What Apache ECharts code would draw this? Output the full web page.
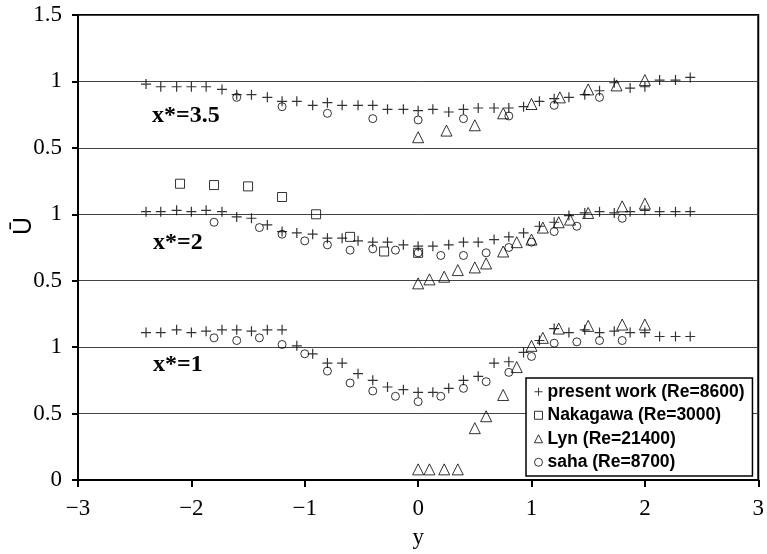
<!DOCTYPE html>
<html><head><meta charset="utf-8">
<script src="https://cdn.jsdelivr.net/npm/echarts@6/dist/echarts.min.js"></script>
<style>html,body{margin:0;padding:0;background:#fff}#c{width:767px;height:554px}</style>
</head><body><div id="c"></div><script>
// ---- data ----
const xTicks = [-3, -2, -1, 0, 1, 2, 3];
const yTickLabels = ['0', '0.5', '1', '0.5', '1', '0.5', '1', '1.5'];
const profileNames = ['x*=1', 'x*=2', 'x*=3.5'];
const profileOffsets = [0, 1, 2];
const seriesNames = ['present work (Re=8600)', 'Nakagawa (Re=3000)', 'Lyn (Re=21400)', 'saha (Re=8700)'];

const presentX = [-2.4,-2.27,-2.13,-2.0,-1.87,-1.73,-1.6,-1.47,-1.33,-1.2,-1.07,-0.93,-0.8,-0.67,-0.53,-0.4,-0.27,-0.13,0,0.13,0.27,0.4,0.53,0.67,0.8,0.93,1.07,1.2,1.33,1.47,1.6,1.73,1.87,2.0,2.13,2.27,2.4];
const presentU1 = [1.11,1.11,1.13,1.11,1.12,1.13,1.13,1.12,1.13,1.13,1.01,0.95,0.88,0.88,0.80,0.75,0.70,0.68,0.66,0.66,0.69,0.75,0.78,0.88,0.89,0.96,1.05,1.14,1.11,1.13,1.11,1.12,1.11,1.11,1.08,1.08,1.08];
const presentU2 = [1.02,1.02,1.03,1.02,1.03,1.02,0.98,0.97,0.92,0.87,0.86,0.85,0.82,0.82,0.80,0.79,0.79,0.77,0.76,0.76,0.77,0.79,0.79,0.81,0.83,0.86,0.91,0.94,0.99,1.01,1.02,1.01,1.02,1.03,1.02,1.02,1.02];
const presentU35 = [0.98,0.96,0.96,0.96,0.96,0.94,0.90,0.90,0.88,0.85,0.85,0.82,0.84,0.82,0.82,0.82,0.79,0.79,0.78,0.79,0.77,0.79,0.80,0.80,0.80,0.81,0.85,0.87,0.88,0.90,0.93,0.99,0.95,0.96,1.01,1.01,1.03];

const nakaX2 = [-2.1,-1.8,-1.5,-1.2,-0.9,-0.6,-0.3,0];
const nakaU2 = [1.23,1.22,1.21,1.13,1.0,0.83,0.72,0.71];

const lynX1 = [0,0.1,0.23,0.35,0.5,0.6,0.75,0.87,1.0,1.1,1.24,1.5,1.8,2.0];
const lynU1 = [0.08,0.08,0.08,0.08,0.39,0.48,0.64,0.85,1.01,1.07,1.14,1.16,1.17,1.17];
const lynX2 = [0,0.1,0.23,0.35,0.5,0.6,0.75,0.87,1.0,1.1,1.24,1.34,1.5,1.8,2.0];
const lynU2 = [0.48,0.51,0.53,0.58,0.60,0.63,0.72,0.79,0.81,0.90,0.94,0.96,1.01,1.06,1.08];
const lynX35 = [0,0.25,0.5,0.75,1.0,1.25,1.5,1.75,2.0];
const lynU35 = [0.58,0.63,0.67,0.76,0.83,0.88,0.94,0.97,1.01];

const sahaX1 = [-1.8,-1.6,-1.4,-1.2,-1.0,-0.8,-0.6,-0.4,-0.2,0,0.2,0.4,0.6,0.8,1.0,1.2,1.4,1.6,1.8];
const sahaU1 = [1.07,1.05,1.07,1.02,0.95,0.82,0.73,0.67,0.63,0.59,0.63,0.69,0.74,0.81,0.93,1.03,1.04,1.05,1.05];
const sahaX2 = [-1.8,-1.4,-1.2,-1.0,-0.8,-0.6,-0.4,-0.2,0,0.2,0.4,0.6,0.8,1.0,1.2,1.4,1.8];
const sahaU2 = [0.94,0.90,0.85,0.80,0.77,0.73,0.74,0.73,0.71,0.69,0.69,0.71,0.75,0.79,0.87,0.91,0.97];
const sahaX35 = [-1.6,-1.2,-0.8,-0.4,0,0.4,0.8,1.2,1.6];
const sahaU35 = [0.88,0.81,0.76,0.72,0.71,0.72,0.74,0.82,0.88];

// ---- build ----
const PLUS = 'path://M4.4,0H5.6V4.4H10V5.6H5.6V10H4.4V5.6H0V4.4H4.4Z';
const hollow = {color: 'rgba(0,0,0,0)', borderColor: '#000', borderWidth: 1};
function mk(name, symbol, size, xs, us, off, style) {
  return {
    type: 'scatter', name: name, symbol: symbol, symbolSize: size,
    data: xs.map((x, i) => [x, us[i] + off]),
    itemStyle: style, emphasis: {disabled: true}, silent: true
  };
}
const series = [
  mk(seriesNames[0], PLUS, 10, presentX, presentU1, profileOffsets[0], {color: '#000'}),
  mk(seriesNames[0], PLUS, 10, presentX, presentU2, profileOffsets[1], {color: '#000'}),
  mk(seriesNames[0], PLUS, 10, presentX, presentU35, profileOffsets[2], {color: '#000'}),
  mk(seriesNames[1], 'rect', 9, nakaX2, nakaU2, profileOffsets[1], hollow),
  mk(seriesNames[2], 'triangle', 11, lynX1, lynU1, profileOffsets[0], hollow),
  mk(seriesNames[2], 'triangle', 11, lynX2, lynU2, profileOffsets[1], hollow),
  mk(seriesNames[2], 'triangle', 11, lynX35, lynU35, profileOffsets[2], hollow),
  mk(seriesNames[3], 'circle', 8, sahaX1, sahaU1, profileOffsets[0], hollow),
  mk(seriesNames[3], 'circle', 8, sahaX2, sahaU2, profileOffsets[1], hollow),
  mk(seriesNames[3], 'circle', 8, sahaX35, sahaU35, profileOffsets[2], hollow)
];

const serif = '"Liberation Serif", "Times New Roman", serif';
const sans = '"Liberation Sans", Arial, sans-serif';
const chart = echarts.init(document.getElementById('c'), null, {renderer: 'canvas'});
chart.setOption({
  animation: false,
  backgroundColor: '#fff',
  grid: {left: 78, right: 4, top: 15, bottom: 74, show: true, borderColor: '#000', borderWidth: 2, backgroundColor: 'rgba(0,0,0,0)'},
  xAxis: {
    type: 'value', min: xTicks[0], max: xTicks[xTicks.length - 1], interval: 1,
    name: 'y', nameLocation: 'middle', nameGap: 46,
    nameTextStyle: {fontFamily: serif, fontSize: 23, color: '#000'},
    axisLine: {show: true, onZero: false, lineStyle: {color: '#000', width: 2}},
    axisTick: {show: true, inside: false, length: 7, lineStyle: {color: '#000', width: 2}},
    axisLabel: {fontFamily: serif, fontSize: 23, color: '#000', margin: 17,
      formatter: v => (v < 0 ? '\u2212' + Math.abs(v) : String(v))},
    splitLine: {show: false}
  },
  yAxis: {
    type: 'value', min: 0, max: 3.5, interval: 0.5,
    axisLine: {show: true, onZero: false, lineStyle: {color: '#000', width: 2}},
    axisTick: {show: true, inside: false, length: 6, lineStyle: {color: '#000', width: 2}},
    axisLabel: {fontFamily: serif, fontSize: 23, color: '#000', margin: 16,
      formatter: v => yTickLabels[Math.round(v / 0.5)]},
    splitLine: {show: true, lineStyle: {color: '#444', width: 1}}
  },
  legend: {
    orient: 'vertical', left: 526, top: 378,
    padding: [4, 8, 4, 8], itemGap: 4, itemWidth: 8, itemHeight: 8,
    backgroundColor: '#fff', borderColor: '#000', borderWidth: 1.5,
    selectedMode: false,
    itemStyle: {borderWidth: 1},
    textStyle: {fontFamily: sans, fontSize: 17.5, fontWeight: 'bold', color: '#000', lineHeight: 19.5},
    data: seriesNames.map(n => ({name: n}))
  },
  graphic: [
    {type: 'text', left: 152, top: 104, style: {text: profileNames[2], font: 'bold 24px ' + serif, fill: '#000'}},
    {type: 'text', left: 153, top: 231, style: {text: profileNames[1], font: 'bold 24px ' + serif, fill: '#000'}},
    {type: 'text', left: 153, top: 353, style: {text: profileNames[0], font: 'bold 24px ' + serif, fill: '#000'}},
    {type: 'text', x: 24, y: 226, rotation: Math.PI / 2,
      style: {text: '\u016A', font: '25px ' + sans, fill: '#000', align: 'center', verticalAlign: 'middle'}}
  ],
  series: series
});
</script></body></html>
